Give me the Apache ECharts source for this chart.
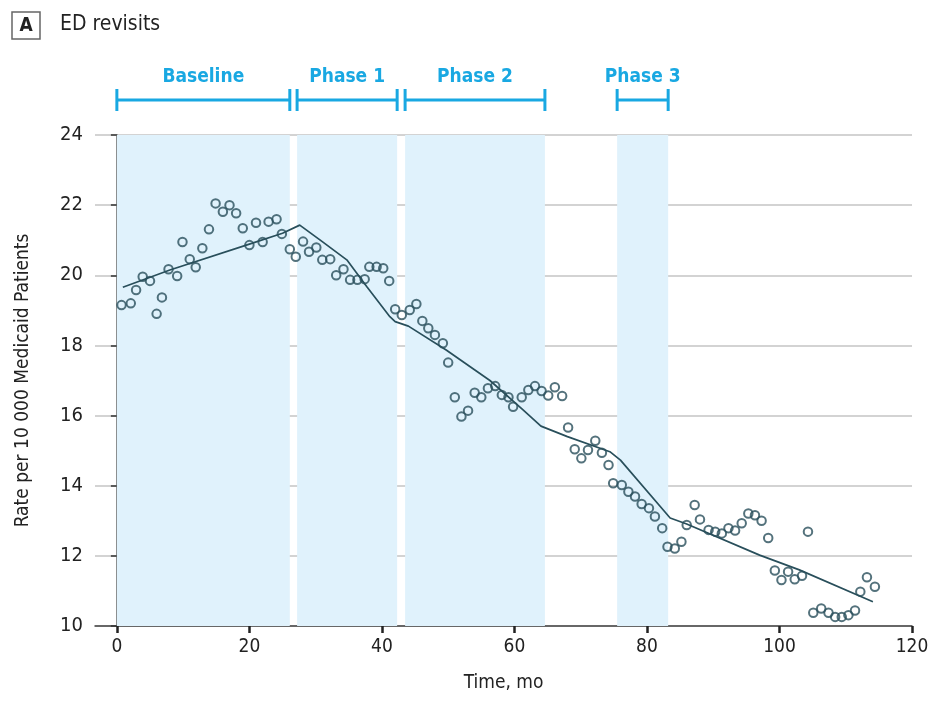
<!DOCTYPE html>
<html>
<head>
<meta charset="utf-8">
<script src="https://cdn.jsdelivr.net/npm/echarts@6/dist/echarts.min.js"></script>
<style>
html,body{margin:0;padding:0;background:#fff;}
#chart{width:938px;height:705px;}
</style>
</head>
<body>
<div id="chart"></div>
<script>
// ---- data ----
var months = [0.7,2.1,2.9,3.9,5.0,6.0,6.8,7.8,9.1,9.9,11.0,11.9,12.9,13.9,14.9,16.0,17.0,18.0,19.0,20.0,21.0,22.0,22.9,24.1,24.9,26.1,27.0,28.1,29.0,30.1,31.0,32.2,33.1,34.2,35.2,36.3,37.4,38.1,39.2,40.2,41.1,42.0,43.0,44.2,45.2,46.1,47.0,48.0,49.2,50.0,51.0,52.0,53.0,54.0,55.0,56.0,57.1,58.1,59.1,59.8,61.1,62.1,63.1,64.1,65.1,66.1,67.2,68.1,69.1,70.1,71.1,72.2,73.2,74.2,74.9,76.2,77.2,78.2,79.2,80.3,81.2,82.3,83.1,84.2,85.2,86.0,87.2,88.0,89.3,90.3,91.3,92.3,93.3,94.3,95.3,96.3,97.3,98.3,99.3,100.3,101.3,102.3,103.4,104.3,105.1,106.3,107.4,108.4,109.4,110.4,111.4,112.2,113.2,114.4];
var rates = [19.15,19.2,19.58,19.96,19.84,18.9,19.37,20.17,19.98,20.95,20.46,20.23,20.77,21.31,22.05,21.81,22.0,21.77,21.34,20.86,21.5,20.95,21.53,21.6,21.18,20.74,20.53,20.96,20.67,20.79,20.44,20.46,20.0,20.17,19.87,19.87,19.89,20.24,20.24,20.2,19.84,19.03,18.87,19.01,19.18,18.7,18.49,18.3,18.06,17.51,16.52,15.97,16.14,16.65,16.52,16.78,16.84,16.59,16.52,16.25,16.52,16.73,16.84,16.7,16.57,16.81,16.56,15.66,15.04,14.78,15.02,15.28,14.94,14.59,14.07,14.02,13.83,13.69,13.48,13.36,13.12,12.79,12.26,12.21,12.4,12.88,13.45,13.04,12.74,12.69,12.64,12.79,12.72,12.93,13.21,13.16,13.0,12.51,11.58,11.31,11.55,11.33,11.43,12.69,10.38,10.5,10.38,10.26,10.26,10.31,10.44,10.98,11.39,11.12];
var fitMonths = [0.9,8,20,25,27.6,31,34.7,37.7,41.2,42,44,49.7,56.3,61.3,64,68,74.4,76,83.5,86,97,103,114.1];
var fitRates  = [19.66,20.15,20.89,21.2,21.43,20.96,20.44,19.68,18.82,18.68,18.55,17.87,17.0,16.16,15.7,15.4,14.97,14.73,13.08,12.91,12.02,11.6,10.69];
var phaseNames = ['Baseline','Phase 1','Phase 2','Phase 3'];
var phaseStart = [0, 27.2, 43.5, 75.5];
var phaseEnd   = [26.1, 42.3, 64.6, 83.2];
var xTicks = [0,20,40,60,80,100,120];
var yTicks = [10,12,14,16,18,20,22,24];

var FONT = "'Liberation Sans Narrow','DejaVu Sans Condensed','Liberation Sans',sans-serif";
var DARK = '#294f5b';
var BLUE = '#19a8e2';
var TXT = '#222';

var chart = echarts.init(document.getElementById('chart'), null, {renderer:'canvas'});

var scatterData = months.map(function(m,i){return [m, rates[i]];});
var fitData = fitMonths.map(function(m,i){return [m, fitRates[i]];});
var bandData = phaseStart.map(function(s,i){return [{xAxis:s},{xAxis:phaseEnd[i]}];});
var phaseData = phaseStart.map(function(s,i){return [s, phaseEnd[i], i];});

var option = {
  animation:false,
  backgroundColor:'#fff',
  textStyle:{fontFamily:FONT},
  graphic:[
    {type:'rect', shape:{x:12,y:12,width:28,height:27}, style:{fill:'#fff', stroke:'#666', lineWidth:1.5}},
    {type:'text', x:26, y:26, style:{text:'A', font:'bold 19px '+FONT, fill:TXT, align:'center', verticalAlign:'middle'}},
    {type:'text', x:60, y:25, style:{text:'ED revisits', font:'21px '+FONT, fill:TXT, verticalAlign:'middle'}}
  ],
  grid:{left:95, right:26, top:135, bottom:79, containLabel:false},
  xAxis:{
    type:'value', min:-3.3, max:120,
    name:'Time, mo', nameLocation:'middle', nameGap:48,
    nameTextStyle:{fontSize:19, color:TXT, fontFamily:FONT},
    axisLine:{show:true, lineStyle:{color:'#444', width:1.5}},
    axisTick:{show:true, customValues:xTicks, length:7, lineStyle:{color:'#222', width:2.5}},
    axisLabel:{customValues:xTicks, fontSize:19, color:TXT, margin:12, fontFamily:FONT},
    splitLine:{show:false}
  },
  yAxis:{
    type:'value', min:10, max:24, interval:2,
    name:'Rate per 10 000 Medicaid Patients', nameLocation:'middle', nameGap:62,
    nameTextStyle:{fontSize:19, color:TXT, fontFamily:FONT},
    axisLine:{show:true, lineStyle:{color:'#555', width:1.5}},
    axisTick:{show:true, length:6, lineStyle:{color:'#333', width:1.5}},
    axisLabel:{fontSize:20, color:TXT, margin:12, fontFamily:FONT},
    splitLine:{show:true, lineStyle:{color:'#d3d3d3', width:2}}
  },
  series:[
    {
      type:'line', data:[], silent:true,
      markArea:{silent:true, itemStyle:{color:'#e0f2fc'}, data:bandData}
    },
    {
      type:'custom', coordinateSystem:'cartesian2d', clip:false, silent:true, z:5,
      data:phaseData,
      renderItem:function(params, api){
        var a = api.coord([api.value(0), 24]);
        var b = api.coord([api.value(1), 24]);
        var idx = api.value(2);
        var y = 100, h = 11;
        var st = {stroke:BLUE, lineWidth:3};
        return {type:'group', children:[
          {type:'line', shape:{x1:a[0], y1:y, x2:b[0], y2:y}, style:st},
          {type:'line', shape:{x1:a[0], y1:y-h, x2:a[0], y2:y+h}, style:st},
          {type:'line', shape:{x1:b[0], y1:y-h, x2:b[0], y2:y+h}, style:st},
          {type:'text', x:(a[0]+b[0])/2, y:77, style:{text:phaseNames[idx], font:'bold 19px '+FONT, fill:BLUE, align:'center', verticalAlign:'middle'}}
        ]};
      }
    },
    {
      type:'line', data:fitData, symbol:'none', z:3, silent:true,
      lineStyle:{color:DARK, width:1.7}
    },
    {
      type:'scatter', data:scatterData, symbol:'circle', symbolSize:8.5, z:4, silent:true,
      itemStyle:{color:'rgba(255,255,255,0)', borderColor:DARK, borderWidth:2}
    }
  ]
};
chart.setOption(option);
</script>
</body>
</html>
